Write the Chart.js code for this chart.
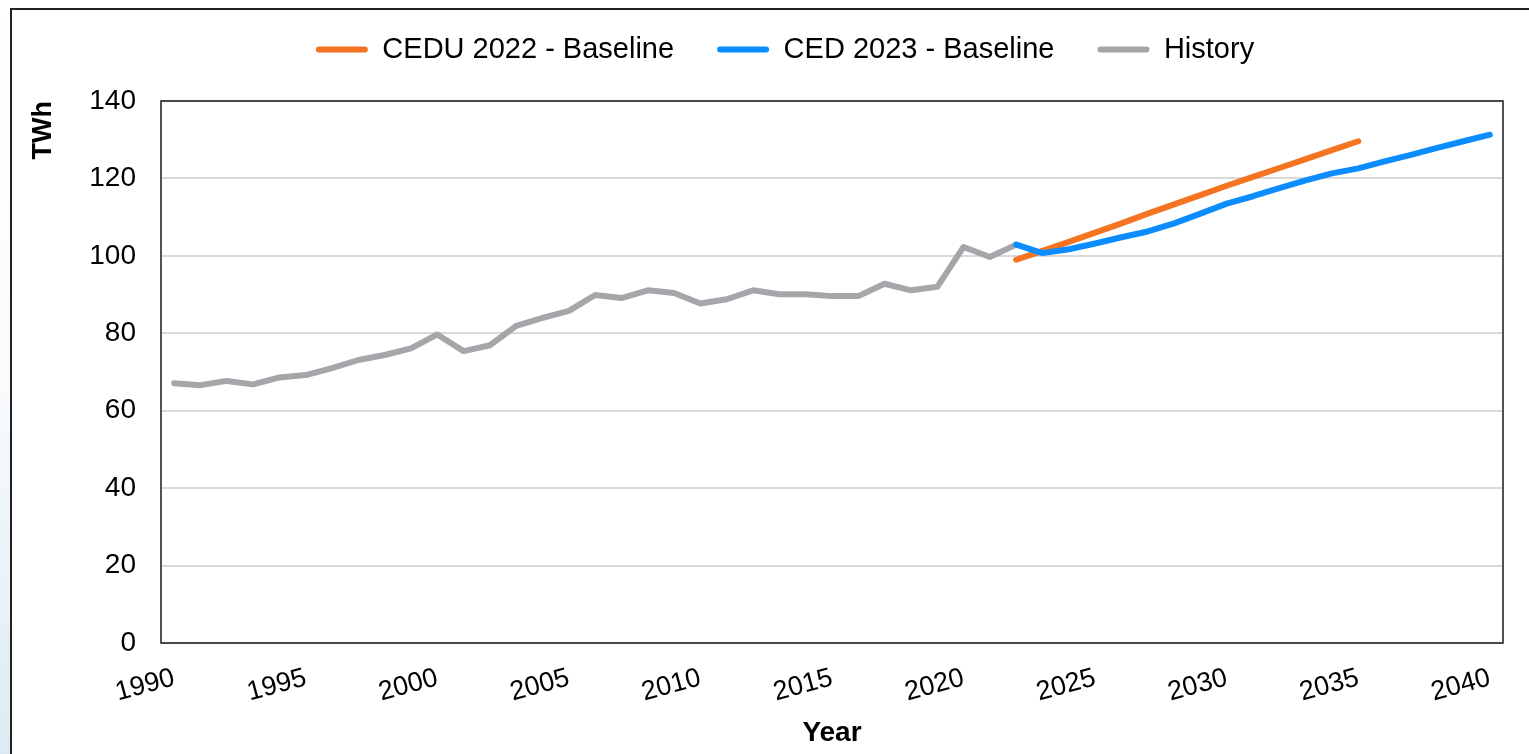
<!DOCTYPE html>
<html>
<head>
<meta charset="utf-8">
<script src="https://cdn.jsdelivr.net/npm/chart.js@4.4.1/dist/chart.umd.min.js"></script>
<style>
html, body { margin:0; padding:0; width:1529px; height:754px; overflow:hidden; }
body { position:relative; background: linear-gradient(to bottom, #ffffff 0%, #f9fbfd 50%, #dcebf2 100%); }
#frame { position:absolute; left:10px; top:8px; width:1600px; height:800px; border-top:2px solid #222; border-left:2px solid #222; background:#fff; }
#chart { position:absolute; left:13px; top:-12px; }
</style>
</head>
<body>
<div id="frame"></div>
<canvas id="chart" width="1544" height="766"></canvas>
<script>
// categories
var years = [1990,1991,1992,1993,1994,1995,1996,1997,1998,1999,
             2000,2001,2002,2003,2004,2005,2006,2007,2008,2009,
             2010,2011,2012,2013,2014,2015,2016,2017,2018,2019,
             2020,2021,2022,2023,2024,2025,2026,2027,2028,2029,
             2030,2031,2032,2033,2034,2035,2036,2037,2038,2039,2040];
var tickYears = [1990,1995,2000,2005,2010,2015,2020,2025,2030,2035,2040];
var yTicks = [0,20,40,60,80,100,120,140];

// History 1990-2022 (TWh)
var historyTWh = [67.1,66.6,67.7,66.8,68.6,69.2,71.0,73.1,74.4,76.1,
                  79.7,75.4,76.9,81.9,84.0,85.8,89.9,89.1,91.1,90.4,
                  87.7,88.8,91.1,90.1,90.1,89.6,89.6,92.8,91.1,92.0,
                  102.3,99.7,102.9];
// CEDU 2022 - Baseline, 2022-2035
var cedu2022 = [99.0,101.3,103.6,106.0,108.4,110.9,113.3,115.7,118.1,120.4,
                122.7,125.0,127.3,129.6];
// CED 2023 - Baseline, 2022-2040
var ced2023 = [102.9,100.7,101.7,103.2,104.8,106.3,108.4,110.9,113.5,115.4,
               117.5,119.5,121.3,122.6,124.4,126.1,127.9,129.6,131.3];

function alignTo(startYear, values) {
  var out = [];
  for (var i = 0; i < years.length; i++) {
    var k = years[i] - startYear;
    out.push(k >= 0 && k < values.length ? values[k] : null);
  }
  return out;
}

Chart.defaults.font.family = '"Liberation Sans", Arial, sans-serif';
Chart.defaults.color = '#000';

var plotFrame = {
  id: 'plotFrame',
  beforeDatasetsDraw: function(chart) {
    var a = chart.chartArea, ctx = chart.ctx;
    ctx.save();
    ctx.strokeStyle = '#1a1a1a';
    ctx.lineWidth = 1.5;
    ctx.strokeRect(a.left, a.top, a.right - a.left, a.bottom - a.top);
    ctx.restore();
  }
};

function lineSet(label, data, color, order) {
  return {
    label: label, data: data, order: order,
    borderColor: color, backgroundColor: color,
    borderWidth: 6, pointRadius: 0, tension: 0,
    borderCapStyle: 'round', borderJoinStyle: 'round'
  };
}

new Chart(document.getElementById('chart'), {
  type: 'line',
  data: {
    labels: years,
    datasets: [
      lineSet('CEDU 2022 - Baseline', alignTo(2022, cedu2022), '#f47422', 1),
      lineSet('CED 2023 - Baseline', alignTo(2022, ced2023), '#0b8cff', 0),
      lineSet('History', alignTo(1990, historyTWh), '#a6a6aa', 2)
    ]
  },
  options: {
    responsive: false,
    animation: false,
    layout: { padding: { top: 4 } },
    plugins: {
      tooltip: { enabled: false },
      legend: {
        position: 'top',
        labels: {
          color: '#000', font: { size: 29 },
          boxWidth: 52, boxHeight: 6, padding: 43,
          useBorderRadius: true, borderRadius: 3,
          sort: function(a, b) { return a.datasetIndex - b.datasetIndex; },
          generateLabels: function(chart) {
            var items = Chart.defaults.plugins.legend.labels.generateLabels(chart);
            items.forEach(function(it) { it.lineWidth = 0; });
            return items;
          }
        }
      },
      // empty spacer between legend and plot
      subtitle: { display: true, text: '', weight: 500, font: { size: 10 }, padding: { top: 0, bottom: 15 } }
    },
    scales: {
      x: {
        type: 'category', offset: true,
        grid: { display: false, drawTicks: false },
        border: { display: false },
        ticks: {
          autoSkip: false, maxRotation: 15, minRotation: 15, padding: 19,
          color: '#000', font: { size: 27 },
          callback: function(value, index) {
            var y = years[index];
            return tickYears.indexOf(y) >= 0 ? String(y) : '';
          }
        },
        title: { display: true, text: 'Year', color: '#000', font: { size: 28, weight: 'bold' }, padding: { top: 0, bottom: 4 } },
        afterFit: function(s) { s.height = 111; }
      },
      y: {
        min: 0, max: 140,
        grid: { color: '#d9d9d9', lineWidth: 2, drawTicks: false },
        border: { display: false },
        ticks: { padding: 25, color: '#000', font: { size: 28 } },
        afterBuildTicks: function(s) { s.ticks = yTicks.map(function(v) { return { value: v }; }); },
        title: { display: true, text: 'TWh', align: 'end', color: '#000', font: { size: 27, weight: 'bold' }, padding: { top: 14, bottom: 0 } },
        afterFit: function(s) { s.width = 148; }
      },
      yRight: {
        position: 'right', display: true,
        grid: { display: false }, border: { display: false }, ticks: { display: false },
        afterFit: function(s) { s.width = 54; }
      }
    }
  },
  plugins: [plotFrame]
});
</script>
</body>
</html>
